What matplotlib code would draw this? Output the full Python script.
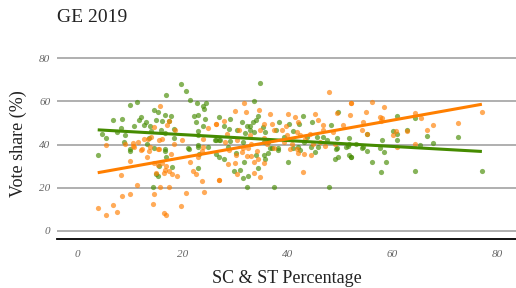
import numpy as np
import matplotlib
matplotlib.use('Agg')
import matplotlib.pyplot as plt

# vote share vs SC & ST share, two parties
green_x = [19.6, 20.7, 16.9, 21.3, 10.0, 11.2, 22.8, 24.4, 23.9, 24.0, 14.5, 15.3, 6.8, 8.5, 12.1,
           11.6, 16.6, 17.7, 15.0, 16.1, 17.3, 13.0, 12.6, 10.7, 13.8, 23.0, 22.2, 22.6, 24.3, 23.9,
           8.2, 4.6, 5.3, 7.4, 9.0, 14.0, 15.8, 16.6, 18.3, 18.4, 23.0, 22.9, 26.3, 26.9, 8.9,
           13.6, 13.1, 14.5, 16.6, 21.1, 10.0, 23.0, 3.8, 10.0, 16.6, 16.8, 17.9, 15.5, 15.2, 14.9,
           14.3, 23.0, 21.0, 22.9, 24.9, 26.3, 23.1,
           34.8, 33.6, 49.5, 26.9, 34.3, 34.0, 33.4, 32.8, 32.2, 31.3, 38.3, 40.3, 42.9, 44.7,
           42.1, 48.2, 29.0, 28.8, 30.3, 27.9, 33.6, 32.9, 31.9, 37.8, 39.3, 41.1, 43.7, 45.5,
           46.8, 47.4, 49.3, 51.7, 51.7, 26.2, 27.1, 29.0, 31.5, 35.4, 36.3, 37.0, 38.2, 41.1,
           42.0, 43.2, 45.8, 49.3, 51.2, 53.1, 35.2, 35.7,
           27.0, 27.9, 29.8, 31.0, 31.7, 31.4, 32.5, 34.4, 32.3, 37.3, 40.0, 47.8, 35.4, 35.7,
           36.3, 36.6, 38.2, 34.0, 30.2, 28.7, 44.4, 45.2, 42.3, 49.2, 49.1, 49.6, 51.7, 52.1, 51.5,
           60.8, 64.3, 60.0, 60.8, 62.7, 60.9, 66.6, 67.7, 72.5, 55.1, 57.9, 54.2, 57.6, 65.2,
           56.1, 58.8, 57.8, 64.3, 77.0, 58.4, 54.4, 55.1, 52.1]
green_y = [68.2, 64.8, 63.0, 60.5, 58.5, 59.9, 59.4, 59.3, 58.0, 56.5, 55.8, 55.1, 51.6, 52.0, 52.8,
           51.6, 53.9, 53.4, 51.2, 50.8, 50.8, 50.3, 48.9, 48.6, 48.6, 53.5, 53.4, 50.3, 52.0, 48.4,
           47.7, 44.9, 43.2, 45.8, 44.2, 46.1, 46.6, 45.5, 47.0, 43.2, 46.3, 44.3, 42.0, 42.3, 41.2,
           43.2, 40.4, 38.6, 37.7, 38.1, 37.7, 40.0, 35.2, 37.2, 37.0, 34.3, 29.6, 29.9, 25.3, 26.1,
           20.3, 29.0, 38.3, 38.9, 38.9, 35.8, 35.8,
           68.5, 60.3, 55.1, 52.8, 53.3, 51.3, 50.5, 48.8, 48.6, 50.5, 50.5, 49.7, 53.1, 50.3,
           49.4, 48.9, 51.8, 47.4, 46.9, 48.6, 45.8, 46.6, 45.2, 46.6, 43.5, 46.3, 43.4, 43.4,
           43.5, 42.0, 43.2, 43.2, 40.4, 42.0, 42.3, 41.5, 41.2, 41.2, 41.2, 38.6, 38.6, 38.6,
           38.9, 41.2, 38.9, 38.6, 38.9, 40.4, 48.1, 45.8,
           34.0, 33.5, 27.6, 28.1, 31.9, 24.3, 25.3, 28.9, 20.3, 20.3, 31.7, 20.1, 35.0, 33.5,
           36.1, 38.6, 37.4, 35.0, 36.1, 38.9, 38.9, 36.6, 37.4, 38.1, 33.2, 34.0, 35.0, 34.0, 39.2,
           53.1, 52.5, 46.3, 44.8, 46.6, 42.0, 43.8, 40.8, 43.4, 44.8, 41.9, 38.6, 38.6, 39.7,
           31.8, 31.8, 27.3, 27.5, 27.5, 36.3, 38.9, 37.1, 34.3]

orange_x = [15.6, 17.0, 17.4, 18.5, 14.6, 26.3, 24.9, 19.9, 15.5, 16.1, 13.3, 12.6, 11.4, 10.6, 14.0,
            5.3, 9.0, 10.6, 13.7, 18.3, 23.9, 23.9, 12.2, 15.4, 8.2, 10.0, 11.2, 3.8, 5.3, 6.8,
            7.4, 8.5, 10.0, 14.3, 14.6, 16.4, 16.8, 15.7, 17.3, 13.1, 12.1, 13.6, 15.3, 17.7, 14.5,
            16.0, 15.2, 16.9, 16.7, 17.3, 16.5, 17.9, 19.0, 14.9, 21.3, 22.0, 22.5, 23.7, 24.1, 20.7,
            19.6, 23.0, 23.6, 26.9, 10.7,
            47.8, 31.7, 52.1, 29.9, 32.1, 34.5, 36.6, 40.1, 41.4, 45.2, 49.3, 51.9, 26.3, 27.8,
            35.5, 37.1, 39.6, 42.0, 45.8, 46.8, 50.6, 30.8, 34.7, 37.3, 38.9, 41.7, 44.2, 46.8,
            48.7, 28.4, 32.8, 35.4, 39.8, 42.3, 43.3, 28.1, 30.3, 33.1, 36.0, 39.2, 44.9, 46.2,
            49.0, 31.5, 37.3, 40.4, 41.8,
            27.0, 28.7, 30.0, 30.3, 28.8, 30.2, 31.2, 32.5, 32.2, 33.1, 33.6, 34.4, 34.1, 35.5,
            33.6, 34.8, 42.0, 43.2, 44.4, 42.9, 47.1, 40.8,
            56.1, 58.4, 52.1, 55.0, 57.6, 58.0, 57.7, 54.3, 64.2, 65.4, 67.7, 72.5, 77.0, 54.2,
            60.6, 62.7, 66.6, 60.0, 55.2, 64.2, 60.8]
orange_y = [57.9, 48.9, 50.8, 46.7, 48.3, 49.7, 47.5, 42.0, 42.0, 42.5, 42.6, 42.6, 41.1, 40.9, 43.5,
            40.0, 40.1, 39.1, 38.9, 40.1, 42.5, 38.9, 37.7, 37.8, 25.8, 32.4, 21.3, 10.5, 7.3, 11.9,
            8.5, 15.9, 16.8, 12.5, 17.0, 8.3, 7.3, 20.2, 20.1, 34.0, 37.5, 36.8, 37.7, 35.5, 31.5,
            31.5, 30.7, 29.9, 28.1, 27.8, 26.8, 26.1, 25.6, 27.0, 31.7, 27.8, 26.5, 23.0, 18.0, 17.6,
            11.6, 34.3, 37.0, 23.5, 38.9,
            64.2, 59.2, 59.2, 55.5, 55.2, 55.8, 54.0, 54.3, 52.8, 54.3, 54.6, 53.5, 49.4, 50.9,
            49.7, 49.7, 48.5, 50.5, 51.3, 48.9, 48.9, 46.6, 46.6, 46.6, 46.6, 45.8, 45.1, 46.6,
            45.8, 45.1, 44.3, 43.2, 44.3, 44.3, 42.7, 41.2, 42.0, 40.4, 40.4, 41.2, 40.4, 41.2,
            40.4, 38.6, 38.6, 38.1, 38.1,
            23.5, 30.9, 31.2, 26.2, 37.4, 35.0, 36.6, 38.6, 34.6, 34.6, 31.7, 33.1, 37.0, 31.2,
            26.6, 25.0, 36.1, 35.8, 35.0, 27.3, 39.4, 40.4,
            59.9, 57.6, 59.3, 54.9, 52.8, 52.5, 50.8, 50.5, 54.8, 52.5, 49.1, 50.0, 55.1, 46.6,
            46.3, 46.3, 46.6, 44.2, 44.8, 40.4, 38.9]

y_ticks = [0, 20, 40, 60, 80]
x_ticks = [0, 20, 40, 60, 80]

green = '#458B00'
orange = '#FF7F00'

plt.rcParams['font.family'] = ['Liberation Serif', 'DejaVu Serif']

fig = plt.figure(figsize=(5.16, 2.88), dpi=100)
ax = fig.add_axes([57.3 / 516, 1 - 239.3 / 288, (516 - 57.3) / 516, (239.3 - 49.7) / 288])

ax.scatter(green_x, green_y, s=14, color=green, alpha=0.65, linewidths=0, zorder=3)
ax.scatter(orange_x, orange_y, s=14, color=orange, alpha=0.65, linewidths=0, zorder=3)

# linear fits, like geom_smooth(method='lm', se=FALSE)
for xs, ys, c in [(green_x, green_y, green), (orange_x, orange_y, orange)]:
    xs = np.array(xs)
    k, b = np.polyfit(xs, ys, 1)
    xx = np.array([xs.min(), xs.max()])
    ax.plot(xx, k * xx + b, color=c, lw=2.2, zorder=4, solid_capstyle='butt')

ax.set_xlim(-3.9, 83.5)
ax.set_ylim(-4, 84)
ax.set_xticks(x_ticks)
ax.set_yticks(y_ticks)
ax.set_xticklabels([str(t) for t in x_ticks], fontstyle='italic', color='#666666', fontsize=8)
ax.set_yticklabels([str(t) for t in y_ticks], fontstyle='italic', color='#666666', fontsize=8)
ax.tick_params(axis='both', length=0)
ax.tick_params(axis='y', pad=5)
ax.tick_params(axis='x', pad=8)

ax.grid(axis='y', color='#9a9a9a', lw=1.1)
ax.set_axisbelow(True)
for side in ['top', 'right', 'left']:
    ax.spines[side].set_visible(False)
ax.spines['bottom'].set_color('black')
ax.spines['bottom'].set_linewidth(1.3)

fig.text(57 / 516, 1 - 21.7 / 288, 'GE 2019', fontsize=14, va='baseline', ha='left', color='#222222')
fig.text(287 / 516, 1 - 283 / 288, 'SC & ST Percentage', fontsize=13, va='baseline', ha='center', color='#222222')
fig.text(18 / 516, 1 - 144 / 288, 'Vote share (%)', fontsize=13, rotation=90, va='center', ha='center', color='#222222')

fig.savefig('out.png', dpi=100)
